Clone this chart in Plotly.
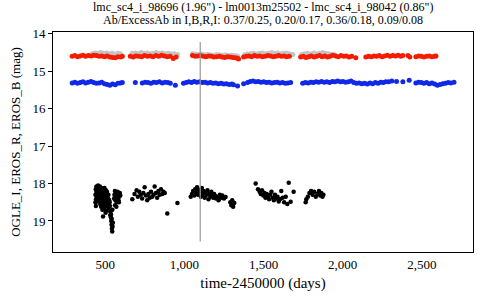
import plotly.graph_objects as go

# ---------------- data ----------------
red_t = [291,308,325,342,359,376,393,410,427,444,461,478,495,512,529,546,563,580,597,608,
         658,676,694,712,730,748,766,784,802,820,838,856,874,892,910,930,948,
         1051,1068,1085,1102,1119,1136,1153,1170,1187,1204,1221,1238,1255,1272,1289,1306,1323,1336,1342,
         1374,1391,1408,1425,1442,1459,1476,1493,1510,1527,1544,1561,1578,1595,1612,1629,1646,1663,
         1734,1751,1768,1785,1802,1819,1836,1853,1870,1887,1904,1921,1938,1955,1972,1989,2006,2023,2040,2057,2083,
         2146,2163,2180,2197,2214,2231,2248,2265,2282,2299,2316,2333,2350,2367,2380,2412,2424,
         2462,2479,2496,2513,2530,2547,2564,2581,2589]
red_mag = [14.60,14.58,14.61,14.59,14.57,14.60,14.58,14.59,14.57,14.58,14.60,14.59,14.61,14.59,14.62,14.63,14.64,14.61,14.62,14.60,
           14.60,14.62,14.59,14.60,14.61,14.58,14.60,14.59,14.61,14.58,14.60,14.57,14.59,14.61,14.60,14.66,14.62,
           14.58,14.60,14.59,14.58,14.60,14.61,14.59,14.60,14.62,14.61,14.60,14.62,14.63,14.61,14.62,14.63,14.64,14.65,14.67,
           14.62,14.60,14.59,14.61,14.58,14.60,14.59,14.61,14.60,14.58,14.59,14.61,14.60,14.58,14.60,14.59,14.61,14.60,
           14.62,14.60,14.63,14.61,14.59,14.62,14.60,14.58,14.61,14.59,14.62,14.60,14.57,14.59,14.61,14.58,14.60,14.59,14.62,14.60,14.64,
           14.62,14.60,14.61,14.59,14.60,14.58,14.61,14.59,14.57,14.60,14.58,14.59,14.57,14.60,14.58,14.58,14.62,
           14.61,14.59,14.60,14.62,14.60,14.59,14.61,14.60,14.59]

gray_t = [418,436,454,472,490,508,526,544,562,580,595,
          671,690,709,728,747,766,785,804,823,842,861,880,899,918,937,956,
          1051,1070,1089,1108,1127,1146,1165,1184,1203,1222,1241,1260,1279,1298,1317,1336,
          1380,1399,1418,1437,1456,1475,1494,1513,1532,1551,1570,1589,1608,1627,1646,1665,1685,
          1740,1759,1778,1797,1816,1835,1854,1873,1892,1911,1930,1949]
gray_mag = [14.53,14.51,14.52,14.50,14.52,14.51,14.53,14.52,14.54,14.52,14.53,
            14.52,14.51,14.53,14.50,14.52,14.51,14.53,14.52,14.50,14.52,14.51,14.53,14.52,14.54,14.53,14.55,
            14.53,14.54,14.55,14.54,14.56,14.55,14.56,14.57,14.55,14.56,14.57,14.56,14.58,14.57,14.58,14.59,
            14.56,14.54,14.53,14.52,14.54,14.52,14.51,14.53,14.52,14.50,14.52,14.51,14.53,14.52,14.51,14.53,14.55,
            14.55,14.53,14.52,14.54,14.51,14.53,14.52,14.50,14.52,14.53,14.55,14.56]

blue_t = [291,308,325,342,359,376,393,410,427,444,461,478,495,512,529,546,563,580,597,608,
          690,734,752,770,788,806,824,842,860,878,896,911,943,
          994,1011,1028,1045,1062,1079,1096,1113,1130,1147,1164,1181,1198,1215,1232,1249,1266,1283,1300,1310,1336,1374,
          1399,1416,1433,1450,1467,1484,1501,1518,1535,1552,1569,1586,1603,1620,1637,1654,1671,
          1747,1764,1781,1798,1815,1832,1849,1866,1883,1900,1917,1934,1951,1968,1985,2002,2019,2036,2053,2070,
          2087,2104,2121,2138,2155,2172,2189,2206,2223,2240,2257,2272,
          2290,2310,2340,2380,2420,
          2462,2479,2496,2513,2530,2547,2564,2581,2598,2615,2632,2649,2666,2683,2703]
blue_mag = [15.31,15.29,15.32,15.30,15.28,15.31,15.29,15.27,15.30,15.32,15.31,15.29,15.33,15.35,15.37,15.34,15.36,15.32,15.31,15.30,
            15.30,15.31,15.29,15.30,15.32,15.29,15.30,15.28,15.31,15.29,15.30,15.32,15.37,
            15.32,15.30,15.28,15.30,15.27,15.29,15.28,15.30,15.29,15.31,15.30,15.32,15.31,15.33,15.32,15.34,15.33,15.35,15.34,15.36,15.39,15.33,
            15.30,15.27,15.26,15.28,15.27,15.29,15.28,15.30,15.29,15.31,15.30,15.29,15.31,15.30,15.32,15.31,15.30,
            15.32,15.30,15.31,15.29,15.30,15.28,15.29,15.27,15.29,15.28,15.30,15.27,15.28,15.26,15.28,15.27,15.29,15.28,15.26,15.30,
            15.32,15.31,15.33,15.32,15.34,15.31,15.33,15.30,15.32,15.29,15.30,15.28,
            15.28,15.26,15.27,15.28,15.24,
            15.31,15.29,15.30,15.32,15.30,15.33,15.31,15.34,15.37,15.35,15.33,15.32,15.30,15.31,15.29]

black_t = [438,440,442,444,446,438,441,444,447,
           449,452,455,457,460,462,464,466,468,470,472,474,476,478,480,482,484,486,488,490,
           492,494,496,498,500,502,504,506,508,510,512,514,516,518,520,522,525,
           455,463,471,479,487,495,503,511,519,
           530,533,536,538,540,542,544,546,548,536,541,545,528,532,
           556,558,561,564,567,570,573,576,580,584,588,592,595,562,570,578,586,
           671,685,698,706,715,724,733,741,749,757,765,773,781,789,797,805,812,820,828,836,844,852,860,868,876,892,956,
           1040,1048,1055,1062,1068,1074,1080,1086,1092,1098,1104,1110,1116,1122,1128,1134,1140,1146,1152,1158,
           1164,1170,1176,1182,1188,1194,1200,1208,1216,1224,1232,1240,1250,1260,1290,1296,1302,1308,1315,
           1450,1465,1475,1482,1490,1498,1505,1512,1520,1528,1535,1542,1550,1558,1565,1572,1580,1588,1596,1604,
           1612,1620,1630,1640,1650,1659,1671,1690,
           1766,1770,1780,1790,1800,1810,1820,1830,1840,1850,1858,1865,1872,1878]
black_mag = [18.30,18.15,18.42,18.22,18.35,18.50,18.60,18.08,18.48,
             18.10,18.25,18.05,18.35,18.15,18.45,18.28,18.08,18.55,18.20,18.38,18.62,18.12,18.30,18.48,18.70,18.22,18.88,18.40,18.15,
             18.55,18.32,18.68,18.25,18.45,18.78,18.18,18.60,18.35,18.50,18.28,18.72,18.42,18.58,18.30,18.65,18.45,
             18.38,18.20,18.50,18.42,18.58,18.12,18.36,18.22,18.40,
             18.60,18.75,18.90,19.00,19.10,19.20,19.28,19.15,19.05,18.82,18.95,18.70,18.50,18.85,
             18.40,18.30,18.20,18.45,18.35,18.25,18.50,18.40,18.30,18.45,18.35,18.25,18.32,18.58,18.62,18.22,18.50,
             18.42,18.28,18.18,18.35,18.22,18.30,18.40,18.25,18.10,18.32,18.45,18.28,18.38,18.22,18.35,18.30,18.08,18.25,18.38,18.20,18.30,18.15,18.28,18.22,18.25,18.80,18.52,
             18.35,18.28,18.20,18.32,18.15,18.25,18.10,18.30,18.18,18.22,18.35,18.12,18.28,18.20,18.38,18.25,18.30,18.18,18.42,18.28,
             18.35,18.22,18.30,18.38,18.28,18.33,18.40,18.35,18.45,18.30,18.38,18.32,18.40,18.36,18.50,18.58,18.45,18.62,18.52,
             18.00,18.15,18.22,18.28,18.18,18.32,18.25,18.38,18.28,18.35,18.42,18.30,18.22,18.38,18.45,18.30,18.40,18.35,18.48,18.42,
             18.20,18.38,18.50,18.35,18.55,17.98,18.49,18.22,
             18.50,18.42,18.35,18.25,18.20,18.30,18.22,18.35,18.28,18.20,18.32,18.25,18.35,18.30]

vline_t = [1100, 1100]
vline_mag = [14.22, 19.55]

title_line1 = 'lmc_sc4_i_98696 (1.96") - lm0013m25502 - lmc_sc4_i_98042 (0.86")'
title_line2 = 'Ab/ExcessAb in I,B,R,I: 0.37/0.25, 0.20/0.17, 0.36/0.18, 0.09/0.08'
x_tickvals = [500, 1000, 1500, 2000, 2500]
y_tickvals = [14, 15, 16, 17, 18, 19]

FONT = "Liberation Serif"

fig = go.Figure()
fig.add_trace(go.Scatter(x=gray_t, y=gray_mag, mode="markers",
                         marker=dict(color="#c4c4c4", size=5, line=dict(width=0))))
fig.add_trace(go.Scatter(x=red_t, y=red_mag, mode="markers",
                         marker=dict(color="#f41c00", size=5, line=dict(width=0))))
fig.add_trace(go.Scatter(x=blue_t, y=blue_mag, mode="markers",
                         marker=dict(color="#1028e8", size=5, line=dict(width=0))))
fig.add_trace(go.Scatter(x=black_t, y=black_mag, mode="markers",
                         marker=dict(color="black", size=4.5, line=dict(width=0))))
fig.add_trace(go.Scatter(x=vline_t, y=vline_mag, mode="lines",
                         line=dict(color="#9a9a9a", width=1.2)))

fig.update_layout(
    width=480, height=300,
    margin=dict(l=53, r=7, t=32, b=48),
    paper_bgcolor="white", plot_bgcolor="white",
    showlegend=False,
    font=dict(family=FONT, color="black", size=13),
    annotations=[
        dict(text=title_line1, x=0.5, y=1 + 25/220, xref="paper", yref="paper",
             showarrow=False, xanchor="center", yanchor="middle",
             font=dict(family=FONT, size=12, color="black")),
        dict(text=title_line2, x=0.5, y=1 + 12/220, xref="paper", yref="paper",
             showarrow=False, xanchor="center", yanchor="middle",
             font=dict(family=FONT, size=12, color="black")),
    ],
)
fig.update_xaxes(
    range=[170, 2823], tickvals=x_tickvals, tickformat=",d",
    showgrid=False, zeroline=False, showline=True, linecolor="black", linewidth=1,
    mirror=True, ticks="", tickfont=dict(family=FONT, size=13),
    title=dict(text="time-2450000 (days)", font=dict(family=FONT, size=15), standoff=6),
)
fig.update_yaxes(
    range=[19.83, 13.95], tickvals=y_tickvals,
    showgrid=False, zeroline=False, showline=True, linecolor="black", linewidth=1,
    mirror=True, ticks="outside", ticklen=4, tickcolor="black", tickfont=dict(family=FONT, size=13),
    title=dict(text="OGLE_I, EROS_R, EROS_B (mag)", font=dict(family=FONT, size=13), standoff=8),
)

fig.write_html("out.html", config={"displayModeBar": False},
               post_script="document.body.style.margin='0';")
